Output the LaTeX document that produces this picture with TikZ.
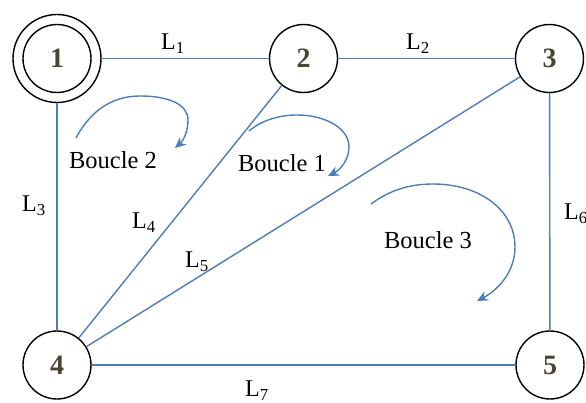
\documentclass[tikz,border=0pt]{standalone}
\usepackage{fontspec}
\setmainfont{Liberation Serif}
\usetikzlibrary{arrows.meta}
\definecolor{lineblue}{HTML}{4A7EBB}
\definecolor{numcol}{HTML}{4A4431}
\tikzset{
  bus/.style={circle, draw=black, line width=1.4pt, minimum size=68pt, inner sep=0pt,
              font=\fontsize{28}{30}\selectfont\bfseries, text=numcol},
  link/.style={draw=lineblue, line width=1.4pt},
  loop/.style={draw=lineblue, line width=1.4pt, -{Stealth[length=11pt,width=10pt]}},
  lab/.style={font=\fontsize{24}{26}\selectfont, inner sep=0pt},
  blab/.style={font=\fontsize{24.5}{26}\selectfont, inner sep=0pt}
}
\begin{document}
\begin{tikzpicture}[x=1pt,y=-1pt]
\useasboundingbox (0,0) rectangle (586,403);
% buses
\node[bus, minimum size=88pt] (n1) at (57,58.5) {1};
\draw[line width=1.4pt] (n1.center) circle (34pt);
\node[bus] (n2) at (303.5,58.5) {2};
\node[bus] (n3) at (549.5,58.5) {3};
\node[bus] (n4) at (57,365) {4};
\node[bus] (n5) at (550,365) {5};
% lines
\draw[link] (n1) -- (n2);
\draw[link] (n2) -- (n3);
\draw[link] (n1) -- (n4);
\draw[link] (n2) -- (n4);
\draw[link] (n3) -- (n4);
\draw[link] (n3) -- (n5);
\draw[link] (n4) -- (n5);
% line labels
\node[lab] (l1) at (173,44) {L\textsubscript{1}};
\node[lab] (l2) at (418,44) {L\textsubscript{2}};
\node[lab] (l3) at (34,206) {L\textsubscript{3}};
\node[lab] (l4) at (144,223) {L\textsubscript{4}};
\node[lab] (l5) at (197,262) {L\textsubscript{5}};
\node[lab] (l6) at (576,214) {L\textsubscript{6}};
\node[lab] (l7) at (257,391) {L\textsubscript{7}};
% loops
\node[blab] (b2) at (113,160) {Boucle 2};
\node[blab] (b1) at (282,163) {Boucle 1};
\node[blab] (b3) at (428,240) {Boucle 3};
\coordinate (s2) at (76,138);
\coordinate (e2) at (175,148);
\draw[loop] (s2) .. controls (92,108) and (115,96) .. (140,96)
  .. controls (168,96) and (188,104) .. (188,120)
  .. controls (188,132) and (183,141) .. (e2);
\coordinate (s1) at (249,131);
\coordinate (e1) at (328,176);
\draw[loop] (s1) .. controls (262,120) and (280,115) .. (297,115)
  .. controls (325,115) and (349,128) .. (349,147)
  .. controls (349,160) and (340,170) .. (e1);
\coordinate (s3) at (371,204);
\coordinate (e3) at (477,301);
\draw[loop] (s3) .. controls (390,190) and (410,184) .. (433,184)
  .. controls (480,184) and (515,210) .. (515,247)
  .. controls (515,272) and (498,290) .. (e3);
\end{tikzpicture}
\end{document}
